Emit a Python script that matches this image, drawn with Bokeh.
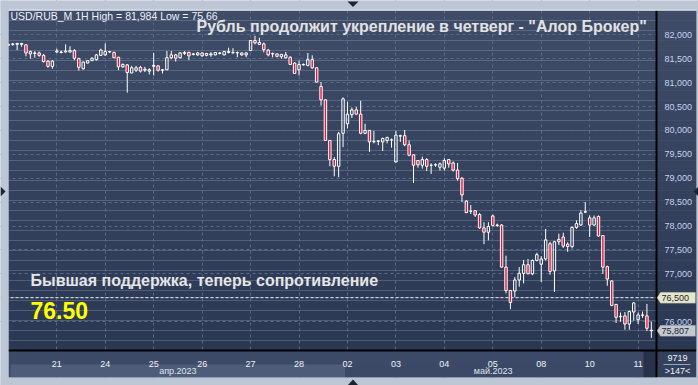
import numpy as np
from bokeh.plotting import figure
from bokeh.models import (Range1d, FixedTicker, CustomJSTickFormatter, BoxAnnotation,
                          Label, Span, ColumnDataSource, PolyAnnotation, AllLabels)
from bokeh.embed import file_html
from bokeh.resources import INLINE

# ---------------- data (hourly candles, index = bar number) ----------------
bar_index = list(range(-1, 146))
open_ = [81.80, 81.80, 81.80, 81.80, 81.79, 81.65, 81.61, 81.62, 81.57, 81.45, 81.34,
         81.64, 81.63, 81.64, 81.64, 81.67, 81.50, 81.29, 81.41, 81.46, 81.48, 81.57,
         81.58, 81.65, 81.63, 81.53, 81.33, 81.37, 81.20, 81.26, 81.32, 81.26, 81.24,
         81.34, 81.35, 81.26, 81.27, 81.52, 81.58, 81.52, 81.61, 81.63, 81.59, 81.58,
         81.56, 81.61, 81.58, 81.58, 81.62, 81.58, 81.63, 81.62, 81.63, 81.62, 81.58,
         81.67, 81.88, 81.80, 81.81, 81.68, 81.60, 81.60, 81.54, 81.52, 81.53, 81.41,
         81.27, 81.38, 81.36, 81.48, 81.31, 80.92, 80.64, 79.79, 79.39, 79.25, 79.94,
         80.14, 80.33, 80.43, 80.34, 79.94, 80.00, 79.76, 79.77, 79.76, 79.79, 79.80,
         79.34, 79.88, 79.89, 79.70, 79.49, 79.37, 79.27, 79.39, 79.27, 79.28, 79.23,
         79.21, 79.39, 79.32, 79.17, 79.00, 78.52, 78.31, 78.32, 78.24, 77.96, 77.87,
         78.21, 78.02, 78.02, 77.14, 76.65, 76.64, 76.87, 77.01, 77.19, 77.00, 77.28,
         77.20, 77.31, 77.63, 77.06, 77.67, 77.77, 77.62, 77.57, 77.97, 78.02, 78.29,
         78.17, 78.02, 78.20, 77.80, 77.15, 76.85, 76.36, 76.10, 76.12, 75.95, 76.20,
         76.04, 76.13, 76.12, 75.82]
high = [81.81, 81.83, 81.83, 81.83, 81.80, 81.67, 81.66, 81.65, 81.60, 81.47, 81.47,
        81.71, 81.67, 81.80, 81.76, 81.70, 81.52, 81.44, 81.47, 81.53, 81.60, 81.71,
        81.82, 81.66, 81.65, 81.54, 81.40, 81.39, 81.35, 81.35, 81.35, 81.33, 81.30,
        81.62, 81.37, 81.28, 81.66, 81.66, 81.60, 81.64, 81.66, 81.65, 81.62, 81.64,
        81.63, 81.62, 81.64, 81.64, 81.64, 81.66, 81.73, 81.72, 81.65, 81.63, 81.64,
        81.89, 81.98, 81.94, 81.84, 81.70, 81.63, 81.61, 81.60, 81.64, 81.55, 81.43,
        81.46, 81.40, 81.62, 81.57, 81.32, 81.01, 80.65, 79.80, 79.44, 79.97, 80.69,
        80.60, 80.48, 80.49, 80.62, 80.14, 80.01, 79.99, 79.80, 79.85, 79.87, 79.83,
        79.99, 79.91, 80.01, 79.79, 79.50, 79.38, 79.45, 79.42, 79.31, 79.31, 79.33,
        79.42, 79.40, 79.35, 79.32, 79.02, 78.54, 78.44, 78.33, 78.27, 78.08, 78.08,
        78.24, 78.05, 78.04, 77.38, 76.66, 76.93, 77.14, 77.29, 77.31, 77.30, 77.44,
        77.37, 77.94, 77.67, 77.69, 77.84, 77.86, 77.66, 77.99, 78.12, 78.33, 78.50,
        78.22, 78.22, 78.22, 77.80, 77.17, 76.86, 76.37, 76.19, 76.20, 76.23, 76.41,
        76.19, 76.21, 76.37, 76.00]
low = [81.77, 81.77, 81.68, 81.75, 81.55, 81.50, 81.52, 81.54, 81.42, 81.31, 81.29,
       81.62, 81.61, 81.63, 81.63, 81.47, 81.25, 81.27, 81.40, 81.45, 81.46, 81.56,
       81.56, 81.62, 81.51, 81.26, 81.31, 80.79, 81.20, 81.22, 81.21, 81.22, 81.17,
       81.15, 81.23, 81.19, 81.26, 81.49, 81.44, 81.50, 81.58, 81.47, 81.57, 81.56,
       81.54, 81.55, 81.54, 81.57, 81.59, 81.57, 81.61, 81.61, 81.53, 81.56, 81.53,
       81.66, 81.80, 81.79, 81.63, 81.55, 81.53, 81.53, 81.50, 81.50, 81.37, 81.19,
       81.15, 81.36, 81.34, 81.29, 81.00, 80.52, 79.78, 79.25, 79.04, 79.02, 79.65,
       80.04, 80.26, 80.33, 79.92, 79.92, 79.55, 79.73, 79.69, 79.57, 79.73, 79.64,
       79.33, 79.76, 79.67, 79.46, 78.90, 79.22, 79.20, 79.15, 79.09, 79.24, 79.16,
       79.16, 79.22, 79.14, 78.95, 78.50, 78.27, 78.25, 78.19, 77.94, 77.62, 77.70,
       77.99, 77.98, 77.13, 76.59, 76.26, 76.51, 76.73, 76.80, 76.99, 76.97, 77.26,
       76.83, 77.28, 76.98, 76.62, 77.60, 77.54, 77.46, 77.53, 77.94, 78.00, 78.27,
       77.77, 78.00, 77.77, 77.00, 76.75, 76.32, 75.97, 76.00, 75.83, 75.83, 76.02,
       75.95, 76.08, 75.80, 75.66]
close = [81.78, 81.81, 81.82, 81.82, 81.62, 81.60, 81.62, 81.57, 81.44, 81.34, 81.45,
         81.66, 81.64, 81.66, 81.67, 81.51, 81.32, 81.43, 81.46, 81.51, 81.58, 81.68,
         81.65, 81.64, 81.52, 81.33, 81.38, 81.21, 81.31, 81.31, 81.24, 81.28, 81.27,
         81.36, 81.26, 81.27, 81.52, 81.58, 81.51, 81.62, 81.63, 81.56, 81.60, 81.62,
         81.62, 81.57, 81.60, 81.63, 81.61, 81.65, 81.65, 81.63, 81.62, 81.58, 81.62,
         81.88, 81.83, 81.84, 81.69, 81.58, 81.61, 81.55, 81.59, 81.58, 81.38, 81.19,
         81.38, 81.37, 81.48, 81.31, 81.01, 80.64, 79.79, 79.39, 79.25, 79.93, 80.66,
         80.34, 80.43, 80.34, 79.94, 80.00, 79.76, 79.77, 79.78, 79.83, 79.85, 79.80,
         79.90, 79.89, 79.70, 79.48, 79.27, 79.28, 79.39, 79.25, 79.27, 79.28, 79.30,
         79.37, 79.30, 79.17, 78.99, 78.65, 78.28, 78.31, 78.23, 77.96, 77.87, 77.99,
         78.01, 78.01, 77.14, 76.65, 76.40, 76.87, 77.01, 77.19, 77.00, 77.28, 77.40,
         77.31, 77.71, 77.05, 77.67, 77.72, 77.58, 77.57, 77.97, 78.05, 78.27, 78.30,
         78.02, 78.17, 77.79, 77.14, 76.89, 76.34, 76.09, 76.11, 75.95, 76.21, 76.39,
         76.14, 76.14, 75.86, 75.807]

day_labels = ["21", "24", "25", "26", "27", "28", "02", "03", "04", "05", "08", "10", "11"]
day_start_index = [10, 21, 32, 43, 54, 65, 76, 87, 98, 109, 120, 131, 142]
month_labels = ["апр.2023", "май.2023"]
month_first_index = [0, 76]
price_ticks = [76.0, 76.5, 77.0, 77.5, 78.0, 78.5, 79.0, 79.5, 80.0, 80.5, 81.0, 81.5, 82.0]
resistance_level = 76.5
header_text = "USD/RUB_M 1H High = 81,984 Low = 75,66"
title_text = "Рубль продолжит укрепление в четверг - \"Алор Брокер\""
note_text = "Бывшая поддержка, теперь сопротивление"
level_text = "76.50"
bars_count_text = "9719"
visible_bars_text = ">147<"

# ---------------- geometry (page pixels; the bokeh frame is the whole page) ----------------
W, H = 698, 385
CL, CR, CT, CB = 8, 696, 10, 377          # dark chart block
PL, PR, PT, PB = 8, 656, 10, 350          # price area inside it
PX_PER_BAR = 4.404
PX_PER_RUB = 47.8
X0 = -0.967 - PL / PX_PER_BAR
Y1 = 82.5084 + PT / PX_PER_RUB
X1 = X0 + W / PX_PER_BAR
Y0 = Y1 - H / PX_PER_RUB

def dx(px):
    return X0 + px / PX_PER_BAR

def dy(py):
    return Y1 - py / PX_PER_RUB

FONT = "Liberation Sans"
RED = "#e3163d"
GRAY = "#bcc6d5"

o = np.array(open_); c = np.array(close); hi = np.array(high); lo = np.array(low)
top = np.maximum(o, c); bot = np.minimum(o, c)
bear = c < o
src = ColumnDataSource(dict(x=bar_index, high=hi, low=lo, top=top, bottom=bot,
                            fill=[RED if b else "#000000" for b in bear],
                            alpha=[1.0 if b else 0.0 for b in bear]))

p = figure(width=W, height=H, x_range=Range1d(X0, X1), y_range=Range1d(Y0, Y1),
           y_axis_location="right", output_backend="svg", toolbar_location=None,
           min_border_left=0, min_border_right=0, min_border_top=0, min_border_bottom=0)
p.border_fill_color = GRAY
p.background_fill_color = GRAY
p.outline_line_color = None

def box(l, r, t, b, color, level="glyph", alpha=1.0):
    p.add_layout(BoxAnnotation(left=l, right=r, top=t, bottom=b, fill_color=color,
                               fill_alpha=alpha, line_color=None, level=level))

# gradient background behind price area and price scale
n_bands = 34
c_top = np.array([63, 76, 104]); c_bot = np.array([43, 56, 84])
bands = []
for k in range(n_bands):
    t = (k + 0.5) / n_bands
    col = c_top * (1 - t) + c_bot * t
    hexcol = "#%02x%02x%02x" % tuple(int(round(v)) for v in col)
    py0 = PT + k * (PB - PT) / n_bands
    py1 = PT + (k + 1) * (PB - PT) / n_bands
    bands.append((py0, py1, hexcol))
    box(dx(PL), dx(CR), dy(py0), dy(py1) - 0.002, hexcol, level="image")

# grid
for g in (p.xgrid, p.ygrid):
    g.grid_line_color = "#5a6a8c"
    g.grid_line_dash = "3 3"
    g.grid_line_width = 1
p.xgrid.ticker = FixedTicker(ticks=day_start_index)
p.ygrid.ticker = FixedTicker(ticks=price_ticks)

# resistance line
p.add_layout(Span(location=resistance_level, dimension="width", line_color="#f2f2f2",
                  line_dash="3 2", line_width=1, level="underlay"))

# candles
p.segment(x0="x", y0="high", x1="x", y1="top", source=src, line_color="#ffffff", line_width=1)
p.segment(x0="x", y0="bottom", x1="x", y1="low", source=src, line_color="#ffffff", line_width=1)
p.vbar(x="x", width=0.55, top="top", bottom="bottom", source=src, fill_color="fill",
       fill_alpha="alpha", line_color="#ffffff", line_width=1)

# price scale panel (covers grid / line ends)
for py0, py1, hexcol in bands:
    box(dx(PR), dx(CR), dy(py0), dy(py1) - 0.002, hexcol)
# time scale panel
box(dx(PL), dx(PR), dy(PB), dy(CB), "#3d4a67")
box(month_first_index[0] - 0.5, month_first_index[1] - 0.5, dy(364), dy(CB), "#4e5c79")
box(month_first_index[1] - 0.5, dx(643), dy(364), dy(CB), "#3c4966")
box(dx(643), dx(PR), dy(PB), dy(CB), "#27314a")
box(dx(PR), dx(CR), dy(PB), dy(CB), "#34415c")
box(dx(PR - 1), dx(PR + 1), dy(CT), dy(CB), "#000000")
box(dx(CL), dx(CR), dy(PB - 1), dy(PB + 1), "#000000")
box(dx(663), dx(690), dy(363.5), dy(364.5), "#9aa6bb")
# light page margins
box(dx(0), dx(CL), dy(0), dy(H), GRAY)
box(dx(CR), dx(W), dy(0), dy(H), GRAY)
box(dx(0), dx(W), dy(0), dy(CT), GRAY)
box(dx(0), dx(W), dy(CB), dy(H), GRAY)
box(dx(CL), dx(CR), dy(CT - 1), dy(CT), "#dfe5ee")

# axes (drawn back inside the page)
yax = p.yaxis[0]
yax.ticker = FixedTicker(ticks=price_ticks)
yax.formatter = CustomJSTickFormatter(code="return tick.toFixed(3).replace('.', ',');")
yax.axis_line_color = None
yax.major_tick_line_color = None
yax.minor_tick_line_color = None
yax.major_label_standoff = -(W - PR) + 2
yax.major_label_policy = AllLabels()
yax.major_label_text_font = FONT
yax.major_label_text_font_size = "9px"
yax.major_label_text_color = "#c4d3ee"

xax = p.xaxis[0]
xax.ticker = FixedTicker(ticks=day_start_index)
xax.major_label_overrides = {i: s for i, s in zip(day_start_index, day_labels)}
xax.axis_line_color = None
xax.major_tick_line_color = None
xax.minor_tick_line_color = None
xax.major_label_standoff = -(H - PB) + 4
xax.major_label_policy = AllLabels()
xax.major_label_text_font = FONT
xax.major_label_text_font_size = "9px"
xax.major_label_text_color = "#eef2f8"

# price tags on the price scale
def tag(price, bg, txt):
    hh = 5.5 / PX_PER_RUB
    xs = [dx(PR + 0.5), dx(660), dx(695), dx(695), dx(660)]
    ys = [price, price + hh, price + hh, price - hh, price - hh]
    p.add_layout(PolyAnnotation(xs=xs, ys=ys, fill_color=bg, fill_alpha=1,
                                line_color="#8a93a3", line_width=1))
    p.add_layout(Label(x=dx(661), y=price, text=txt, text_font=FONT, text_font_size="9px",
                       text_color="#1e2532", text_baseline="middle", text_align="left"))

tag(resistance_level, "#e6e6c9", f"{resistance_level:.3f}".replace(".", ","))
tag(close[-1], "#c3c8d1", f"{close[-1]:.3f}".replace(".", ","))

# month labels
for lab, a, b in zip(month_labels, month_first_index, [month_first_index[1], 143.2]):
    p.add_layout(Label(x=(a - 0.5 + b - 0.5) / 2, y=dy(370.5), text=lab, text_font=FONT,
                       text_font_size="9px", text_color="#dde4ef", text_align="center",
                       text_baseline="middle"))

# corner counters
p.add_layout(Label(x=dx(677), y=dy(357.5), text=bars_count_text, text_font=FONT,
                   text_font_size="9px", text_color="#eef2f8", text_align="center",
                   text_baseline="middle"))
p.add_layout(Label(x=dx(677), y=dy(370.5), text=visible_bars_text, text_font=FONT,
                   text_font_size="9px", text_color="#eef2f8", text_align="center",
                   text_baseline="middle"))

# texts
p.add_layout(Label(x=dx(10), y=dy(15), text=header_text, text_font=FONT,
                   text_font_size="10.5px", text_color="#eef2f8", text_baseline="middle"))
p.add_layout(Label(x=dx(196), y=dy(26), text=title_text, text_font=FONT,
                   text_font_size="16px", text_font_style="bold", text_color="#e2e2e2",
                   text_baseline="middle"))
p.add_layout(Label(x=dx(30), y=dy(280), text=note_text, text_font=FONT,
                   text_font_size="16px", text_font_style="bold", text_color="#e6e6e6",
                   text_baseline="middle"))
p.add_layout(Label(x=dx(30), y=dy(310), text=level_text, text_font=FONT,
                   text_font_size="23px", text_font_style="bold", text_color="#ffff00",
                   text_baseline="middle"))

# terminal scroll markers in the page margins
def tri(pts):
    p.add_layout(PolyAnnotation(xs=[dx(a) for a, _ in pts], ys=[dy(b) for _, b in pts],
                                fill_color="#1c2333", fill_alpha=1, line_color=None))

tri([(347, 1), (358, 1), (352.5, 6.5)])
tri([(347, 385), (358, 385), (352.5, 379)])
tri([(0, 186), (0, 196), (5, 191)])
tri([(698, 186), (698, 196), (693, 191)])

open("out.html", "w").write(file_html(p, INLINE))
